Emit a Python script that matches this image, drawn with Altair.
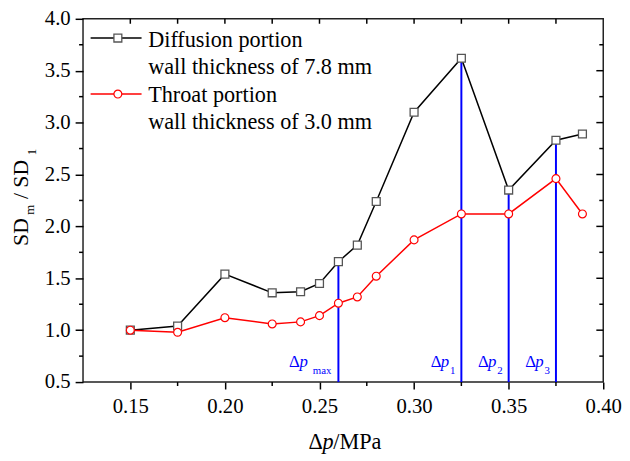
import altair as alt
import pandas as pd

# ---------------- data ----------------
dp = [0.15, 0.175, 0.20, 0.225, 0.24, 0.25, 0.26, 0.27, 0.28, 0.30, 0.325, 0.35, 0.375, 0.389]
diffusion = [1.00, 1.04, 1.54, 1.36, 1.37, 1.45, 1.66, 1.82, 2.24, 3.10, 3.62, 2.35, 2.83, 2.89]
throat = [1.00, 0.98, 1.12, 1.06, 1.08, 1.14, 1.26, 1.32, 1.52, 1.87, 2.12, 2.12, 2.46, 2.12]
series_names = ["Diffusion portion", "Throat portion"]
series_notes = ["wall thickness of 7.8 mm", "wall thickness of 3.0 mm"]
marker_x = [0.26, 0.325, 0.35, 0.375]
marker_top = [1.66, 3.62, 2.35, 2.83]
marker_sub = ["max", "1", "2", "3"]
x_major = [0.15, 0.20, 0.25, 0.30, 0.35, 0.40]
x_minor = [0.175, 0.225, 0.275, 0.325, 0.375]
y_major = [0.5, 1.0, 1.5, 2.0, 2.5, 3.0, 3.5, 4.0]
y_minor = [0.75, 1.25, 1.75, 2.25, 2.75, 3.25, 3.75]

# ---------------- layout ----------------
W, H = 527, 368
FONT = "Liberation Serif, Times New Roman, serif"
BLUE = "#0000ff"
xs = alt.Scale(domain=[0.125, 0.40], nice=False, zero=False)
ys = alt.Scale(domain=[0.5, 4.0], nice=False, zero=False)

df = pd.DataFrame({"dp": dp, "diff": diffusion, "thr": throat})
one = pd.DataFrame({"k": [0]})


def X(field, axis=None):
    return alt.X(field, type="quantitative", scale=xs, axis=axis)


def Y(field, axis=None):
    return alt.Y(field, type="quantitative", scale=ys, axis=axis)


def txt(s, x, y, size, italic=False, align="left", angle=0, color="black", baseline="alphabetic"):
    kw = dict(align=align, baseline=baseline, font=FONT, fontSize=size, color=color)
    if italic:
        kw["fontStyle"] = "italic"
    if angle:
        kw["angle"] = angle
    return alt.Chart(one).mark_text(**kw).encode(x=alt.value(x), y=alt.value(y), text=alt.value(s))


x_axis = alt.Axis(values=x_major, format=".2f", tickSize=7, tickWidth=1.5, tickColor="black",
                  domain=False, grid=False, labels=True, labelFont=FONT, labelFontSize=21,
                  labelColor="black", labelPadding=7, labelFlush=False, title=None)
y_axis = alt.Axis(values=y_major, format=".1f", tickSize=8, tickWidth=1.5, tickColor="black",
                  domain=False, grid=False, labels=True, labelFont=FONT, labelFontSize=21,
                  labelColor="black", labelPadding=5, title=None)

layers = []

# blue marker lines (under the curves)
mdf = pd.DataFrame({"x": marker_x, "top": marker_top, "sub": marker_sub})
layers.append(
    alt.Chart(mdf).mark_rule(color=BLUE, strokeWidth=2).encode(
        x=X("x", x_axis), y=Y("top", y_axis), y2=alt.datum(0.5))
)

# curves
layers.append(alt.Chart(df).mark_line(color="black", strokeWidth=1.5).encode(x=X("dp", x_axis), y=Y("diff", y_axis)))
layers.append(alt.Chart(df).mark_line(color="#ff0000", strokeWidth=1.5).encode(x=X("dp", x_axis), y=Y("thr", y_axis)))
layers.append(alt.Chart(df).mark_point(shape="square", size=64, filled=True, fill="white",
                                       stroke="#555555", strokeWidth=1.3, opacity=1)
              .encode(x=X("dp", x_axis), y=Y("diff", y_axis)))
layers.append(alt.Chart(df).mark_point(shape="circle", size=64, filled=True, fill="white",
                                       stroke="#ff0000", strokeWidth=1.2, opacity=1)
              .encode(x=X("dp", x_axis), y=Y("thr", y_axis)))

# extra ticks
def tickdf(v):
    return pd.DataFrame({"v": v})

TK = dict(color="black", strokeWidth=1.5)
layers.append(alt.Chart(tickdf(x_minor)).mark_rule(**TK).encode(x=X("v", x_axis), y=alt.value(H), y2=alt.value(H + 4)))
layers.append(alt.Chart(tickdf(y_minor)).mark_rule(**TK).encode(y=Y("v", y_axis), x=alt.value(0), x2=alt.value(-4)))
layers.append(alt.Chart(tickdf(x_major[:-1] + x_minor)).mark_rule(**TK).encode(x=X("v", x_axis), y=alt.value(0), y2=alt.value(5)))
layers.append(alt.Chart(tickdf(y_major[1:-1])).mark_rule(**TK).encode(y=Y("v", y_axis), x=alt.value(W), x2=alt.value(W - 7)))
layers.append(alt.Chart(tickdf(y_minor)).mark_rule(**TK).encode(y=Y("v", y_axis), x=alt.value(W), x2=alt.value(W - 4)))

# blue labels
for xv, sub in zip(marker_x, marker_sub):
    d = pd.DataFrame({"x": [xv]})
    if sub == "max":
        offs = (-50, -39.5, -26)
    else:
        offs = (-31, -21, -11.5)
    base = dict(font=FONT, color=BLUE, align="left", baseline="alphabetic")
    layers.append(alt.Chart(d).mark_text(dx=offs[0], fontSize=17, **base)
                  .encode(x=X("x", x_axis), y=alt.value(353), text=alt.value("Δ")))
    layers.append(alt.Chart(d).mark_text(dx=offs[1], fontSize=17, fontStyle="italic", **base)
                  .encode(x=X("x", x_axis), y=alt.value(353), text=alt.value("p")))
    layers.append(alt.Chart(d).mark_text(dx=offs[2], fontSize=11, **base)
                  .encode(x=X("x", x_axis), y=alt.value(359.5), text=alt.value(sub)))

# legend
leg_colors = ["black", "#ff0000"]
leg_y = [19.5, 76.2]
for i in range(2):
    layers.append(alt.Chart(one).mark_rule(color=leg_colors[i], strokeWidth=1.5)
                  .encode(x=alt.value(7.7), x2=alt.value(59.3), y=alt.value(leg_y[i])))
leg_pts = pd.DataFrame({"k": [0]})
layers.append(alt.Chart(leg_pts).mark_point(shape="square", size=64, filled=True, fill="white",
                                            stroke="#555555", strokeWidth=1.3, opacity=1)
              .encode(x=alt.value(35.3), y=alt.value(leg_y[0])))
layers.append(alt.Chart(leg_pts).mark_point(shape="circle", size=64, filled=True, fill="white",
                                            stroke="#ff0000", strokeWidth=1.2, opacity=1)
              .encode(x=alt.value(35.3), y=alt.value(leg_y[1])))
row_y = [21.2, 48.8, 77.2, 104.5]
row_t = [series_names[0], series_notes[0], series_names[1], series_notes[1]]
for t, yv in zip(row_t, row_y):
    layers.append(txt(t, 66, yv, 22.5, baseline="middle"))

# x title: Δp/MPa
layers.append(txt("Δ", 228.5, 436, 22.5))
layers.append(txt("p", 242.5, 436, 22.5, italic=True))
layers.append(txt("/MPa", 253.5, 436, 22.5))

# y title: SD_m/SD_1 (rotated)
layers.append(txt("SD", -56, 216, 22, align="center", angle=270))
layers.append(txt("m", -50, 193.5, 13, align="center", angle=270))
layers.append(txt("/", -56, 179.5, 22, align="center", angle=270))
layers.append(txt("SD", -56, 157, 22, align="center", angle=270))
layers.append(txt("1", -48, 135, 13, align="center", angle=270))

chart = alt.layer(*layers).properties(
    width=W, height=H,
    padding={"left": 76, "top": 8, "right": 19, "bottom": 77},
    autosize=alt.AutoSizeParams(type="none"),
).configure_view(stroke="#222222", strokeWidth=1.5)

chart.save("out.html", embed_options={"renderer": "svg", "actions": False})
